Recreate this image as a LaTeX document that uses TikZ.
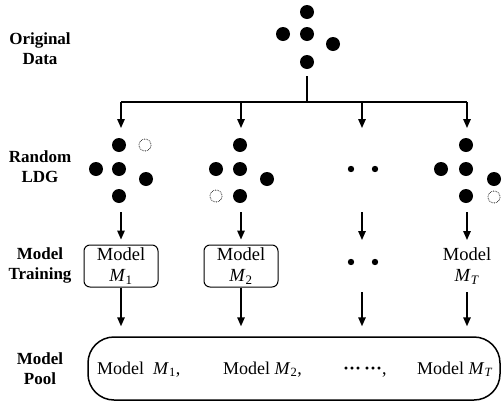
\documentclass[tikz,border=0pt]{standalone}
\usepackage{fontspec}
\setmainfont{Liberation Serif}
\usetikzlibrary{arrows.meta}

\newcommand{\Mname}[1]{\textit{M}\textsubscript{#1}}

\tikzset{
  conn/.style={line width=1.5pt},
  arr/.style={line width=1.5pt, -{Triangle[length=9pt,width=7.5pt]}},
  rowlabel/.style={align=center, font=\bfseries\fontsize{17}{20}\selectfont},
  modelbox/.style={draw, line width=1pt, rounded corners=6pt, minimum width=74pt,
    minimum height=42pt, align=center, inner sep=0pt, font=\fontsize{18.5}{21}\selectfont},
  pooltext/.style={anchor=base west, inner sep=0pt, font=\fontsize{18}{21}\selectfont},
  lost/.style={densely dotted, line width=0.7pt},
}

\begin{document}
\begin{tikzpicture}[x=1pt, y=-1pt]
  \useasboundingbox (0,0) rectangle (504,405);

  % row labels
  \node[rowlabel] (lorig) at (40,49) {Original\\Data};
  \node[rowlabel] (lldg) at (40,167) {Random\\LDG};
  \node[rowlabel] (ltrain) at (40,265) {Model\\Training};
  \node[rowlabel] (lpool) at (40,369) {Model\\Pool};

  % original data
  \fill (307,12) circle [radius=7];
  \fill (283,34) circle [radius=7];
  \fill (307,34) circle [radius=7];
  \fill (333,44) circle [radius=7];
  \fill (307,62) circle [radius=7];

  % random LDG, column 1
  \fill (119,145) circle [radius=7];
  \fill (96,169) circle [radius=7];
  \fill (119,169) circle [radius=7];
  \fill (146,179) circle [radius=7];
  \fill (119,196) circle [radius=7];
  \draw[lost] (145,145) circle [radius=6];

  % random LDG, column 2
  \fill (240,145) circle [radius=7];
  \fill (216,169) circle [radius=7];
  \fill (240,169) circle [radius=7];
  \fill (267,179) circle [radius=7];
  \fill (240,196) circle [radius=7];
  \draw[lost] (216,196) circle [radius=6];

  % random LDG, column 3
  \fill (351,169) circle [radius=3.2];
  \fill (375,169) circle [radius=3.2];

  % random LDG, column 4
  \fill (466,145) circle [radius=7];
  \fill (441,169) circle [radius=7];
  \fill (466,169) circle [radius=7];
  \fill (494,179) circle [radius=7];
  \fill (466,196) circle [radius=7];
  \draw[lost] (494,197) circle [radius=6];

  % training
  \node[modelbox] (m1) at (121,266) {Model\\\Mname{1}};
  \node[modelbox] (m2) at (241,266) {Model\\\Mname{2}};
  \fill (351,262) circle [radius=3.2];
  \fill (375,262) circle [radius=3.2];
  \node[modelbox, draw=none] (mT) at (467,266) {Model\\\Mname{\textit{T}}};

  % pool
  \node[draw, line width=1.5pt, rounded corners=26pt, minimum width=412pt,
    minimum height=63pt] (pool) at (294,368.5) {};
  \node[pooltext] (p1) at (97,374) {Model~~\Mname{1},};
  \node[pooltext] (p2) at (223,374) {Model \Mname{2},};
  \node[pooltext] (p3) at (343,374) {\textbf{\char"00B7\char"00B7\char"00B7\,\char"00B7\char"00B7\char"00B7},};
  \node[pooltext] (pT) at (417,374) {Model \Mname{\textit{T}}};

  % connectors
  \coordinate (stem) at (307,76);
  \coordinate (fork) at (307,102);
  \coordinate (a1) at (121,128);
  \coordinate (a2) at (241,128);
  \coordinate (a3) at (362,128);
  \coordinate (a4) at (467,128);
  \coordinate (b1) at (121,212);
  \coordinate (b2) at (241,212);
  \coordinate (b3) at (362,212);
  \coordinate (b4) at (467,212);
  \coordinate (t3) at (362,240);
  \coordinate (t4) at (467,240);
  \coordinate (u3) at (362,292);
  \coordinate (u4) at (467,292);

  \draw[conn] (stem) -- (fork);
  \draw[conn] (fork -| a1) -- (fork -| a4);
  \foreach \i in {1,...,4}
    \draw[arr] (fork -| a\i) -- (a\i);

  \draw[arr, shorten >=5pt] (b1) -- (m1.north);
  \draw[arr, shorten >=5pt] (b2) -- (m2.north);
  \draw[arr] (b3) -- (t3);
  \draw[arr] (b4) -- (t4);

  \draw[arr, shorten >=10pt] (m1.south) -- (m1.south |- pool.north);
  \draw[arr, shorten >=10pt] (m2.south) -- (m2.south |- pool.north);
  \draw[arr, shorten >=10pt] (u3) -- (u3 |- pool.north);
  \draw[arr, shorten >=10pt] (u4) -- (u4 |- pool.north);
\end{tikzpicture}
\end{document}
